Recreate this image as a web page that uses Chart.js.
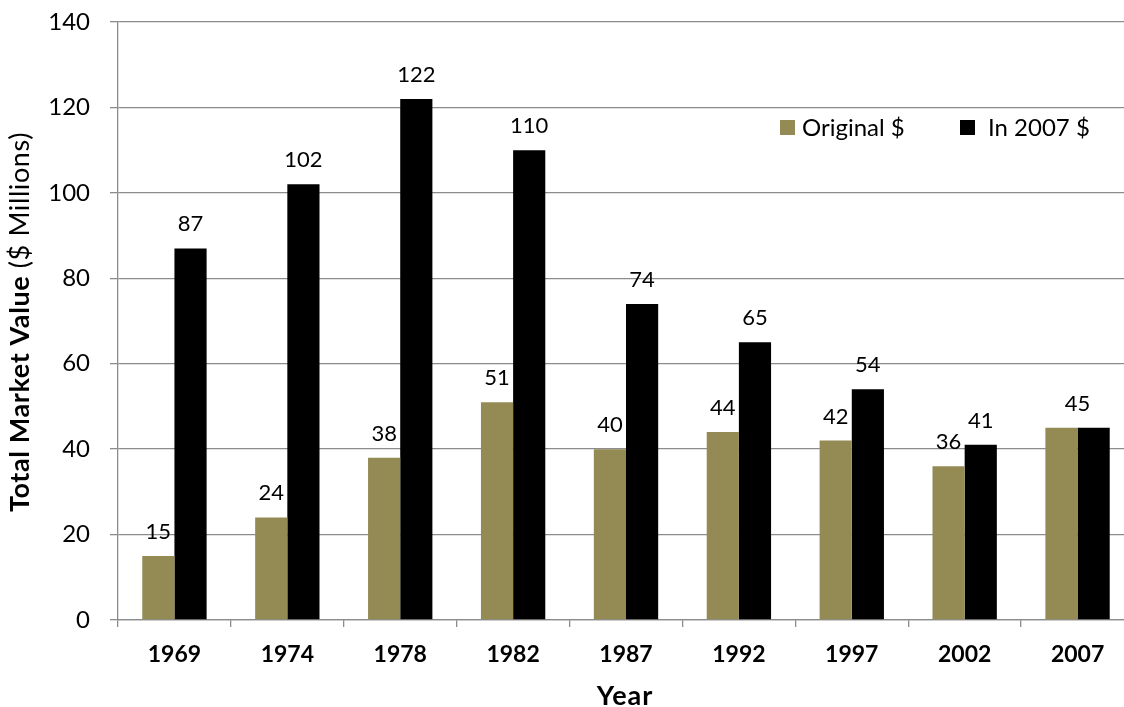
<!DOCTYPE html>
<html>
<head>
<meta charset="utf-8">
<script src="https://cdn.jsdelivr.net/npm/chart.js@4/dist/chart.umd.min.js"></script>
<style>
  html, body { margin: 0; padding: 0; background: #fff; overflow: hidden; }
  #wrap { width: 1134px; height: 707px; }
</style>
</head>
<body>
<div id="wrap"><canvas id="marketChart"></canvas></div>
<script>
const years = ["1969", "1974", "1978", "1982", "1987", "1992", "1997", "2002", "2007"];
const originalValues = [15, 24, 38, 51, 40, 44, 42, 36, 45];
const realValues = [87, 102, 122, 110, 74, 65, 54, 41, 45];
const seriesNames = ["Original $", "In 2007 $"];

const FONT = "Lato, 'Open Sans', sans-serif";
const gridColor = "#8c8c8c";

// value labels above each bar; a pair with equal values gets one shared label
const barLabels = {
  id: "barLabels",
  afterDatasetsDraw(chart) {
    const ctx = chart.ctx;
    const m0 = chart.getDatasetMeta(0);
    const m1 = chart.getDatasetMeta(1);
    ctx.save();
    ctx.font = "22px " + FONT;
    ctx.fillStyle = "#000";
    ctx.textAlign = "center";
    ctx.textBaseline = "alphabetic";
    years.forEach((y, i) => {
      const a = m0.data[i], b = m1.data[i];
      if (originalValues[i] === realValues[i]) {
        ctx.fillText(String(originalValues[i]), (a.x + b.x) / 2, a.y - 17);
      } else {
        ctx.fillText(String(originalValues[i]), a.x, a.y - 17);
        ctx.fillText(String(realValues[i]), b.x, b.y - 17);
      }
    });
    ctx.restore();
  }
};

// axis titles (mixed weight) and the in-plot legend
const decorations = {
  id: "decorations",
  afterDraw(chart) {
    const ctx = chart.ctx;
    ctx.save();
    ctx.fillStyle = "#000";

    // y title
    const boldPart = "Total Market Value";
    const plainPart = " ($ Millions)";
    const size = 27;
    ctx.letterSpacing = "0.6px";
    ctx.font = "bold " + size + "px " + FONT;
    const wb = ctx.measureText(boldPart).width;
    ctx.font = size + "px " + FONT;
    const wp = ctx.measureText(plainPart).width;
    ctx.translate(29, 322);
    ctx.rotate(-Math.PI / 2);
    ctx.textBaseline = "alphabetic";
    ctx.textAlign = "left";
    const start = -(wb + wp) / 2;
    ctx.font = "bold " + size + "px " + FONT;
    ctx.fillText(boldPart, start, 0);
    ctx.font = size + "px " + FONT;
    ctx.fillText(plainPart, start + wb, 0);
    ctx.setTransform(1, 0, 0, 1, 0, 0);

    // x title
    ctx.letterSpacing = "1px";
    ctx.font = "bold 27px " + FONT;
    ctx.textAlign = "center";
    ctx.textBaseline = "alphabetic";
    ctx.fillText("Year", 625, 705);
    ctx.letterSpacing = "0px";

    // legend
    const colors = [chart.data.datasets[0].backgroundColor, chart.data.datasets[1].backgroundColor];
    const items = [[780, 802], [960, 988]];
    ctx.font = "24px " + FONT;
    ctx.textAlign = "left";
    ctx.textBaseline = "middle";
    items.forEach((pos, k) => {
      ctx.fillStyle = colors[k];
      ctx.fillRect(pos[0], 120, 15, 15);
      ctx.fillStyle = "#000";
      ctx.fillText(seriesNames[k], pos[1], 128);
    });
    ctx.restore();
  }
};

new Chart(document.getElementById("marketChart"), {
  type: "bar",
  data: {
    labels: years,
    datasets: [
      { label: seriesNames[0], data: originalValues, backgroundColor: "#948a54" },
      { label: seriesNames[1], data: realValues, backgroundColor: "#000000" }
    ]
  },
  options: {
    responsive: true,
    maintainAspectRatio: false,
    animation: false,
    devicePixelRatio: 1,
    layout: { padding: { top: 22, left: 0, right: 0, bottom: 0 } },
    datasets: { bar: { barPercentage: 1, categoryPercentage: 0.57 } },
    plugins: {
      legend: { display: false },
      tooltip: { enabled: false }
    },
    scales: {
      x: {
        grid: { display: true, drawOnChartArea: false, color: gridColor, lineWidth: 1.3, tickLength: 7, offset: true },
        border: { color: gridColor, width: 1.3 },
        ticks: { color: "#000", font: { family: FONT, size: 23, weight: "bold" }, padding: 14 },
        afterFit(s) { s.height = 87; }
      },
      y: {
        min: 0,
        max: 140,
        ticks: { stepSize: 20, color: "#000", font: { family: FONT, size: 24 }, padding: 20 },
        grid: { color: gridColor, lineWidth: 1.3, tickLength: 8 },
        border: { color: gridColor, width: 1.3 },
        afterFit(s) {
          s.width = 118;
          s.paddingTop = 0;
          s.paddingBottom = 0;
        }
      }
    }
  },
  plugins: [barLabels, decorations]
});
</script>
</body>
</html>
